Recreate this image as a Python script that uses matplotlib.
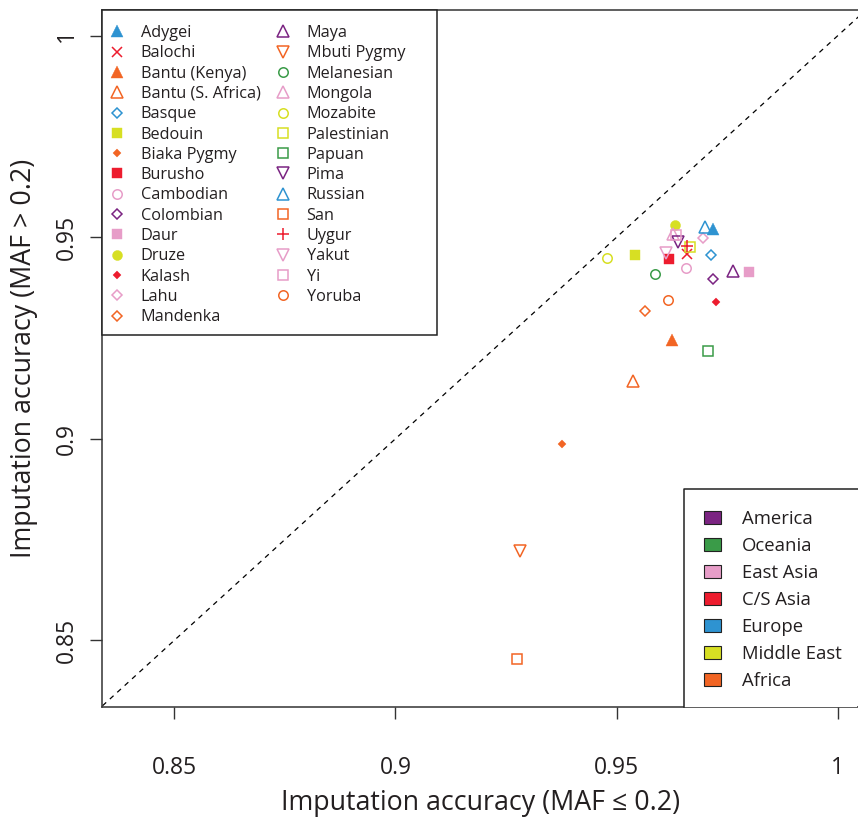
import numpy as np
import matplotlib
matplotlib.use('Agg')
import matplotlib.pyplot as plt
from matplotlib.lines import Line2D
from matplotlib.patches import Patch, Rectangle

plt.rcParams['font.family'] = ['Open Sans', 'DejaVu Sans']

# populations: accuracy for MAF <= 0.2 (x) and MAF > 0.2 (y)
pops = ['Adygei', 'Balochi', 'Bantu (Kenya)', 'Bantu (S. Africa)', 'Basque', 'Bedouin',
        'Biaka Pygmy', 'Burusho', 'Cambodian', 'Colombian', 'Daur', 'Druze', 'Kalash',
        'Lahu', 'Mandenka', 'Maya', 'Mbuti Pygmy', 'Melanesian', 'Mongola', 'Mozabite',
        'Palestinian', 'Papuan', 'Pima', 'Russian', 'San', 'Uygur', 'Yakut', 'Yi', 'Yoruba']
acc_low = [0.9717, 0.9659, 0.9625, 0.9536, 0.9714, 0.9542,
           0.9377, 0.9619, 0.9656, 0.9717, 0.9800, 0.9631, 0.9725,
           0.9696, 0.9565, 0.9764, 0.9282, 0.9586, 0.9627, 0.9479,
           0.9666, 0.9707, 0.9640, 0.9700, 0.9275, 0.9659, 0.9612, 0.9634, 0.9616]
acc_high = [0.9520, 0.9459, 0.9245, 0.9144, 0.9455, 0.9455,
            0.8987, 0.9445, 0.9423, 0.9397, 0.9415, 0.9530, 0.9340,
            0.9498, 0.9316, 0.9416, 0.8722, 0.9410, 0.9508, 0.9448,
            0.9475, 0.9219, 0.9489, 0.9526, 0.8453, 0.9478, 0.9462, 0.9505, 0.9344]
region = ['Europe', 'C/S Asia', 'Africa', 'Africa', 'Europe', 'Middle East',
          'Africa', 'C/S Asia', 'East Asia', 'America', 'East Asia', 'Middle East', 'C/S Asia',
          'East Asia', 'Africa', 'America', 'Africa', 'Oceania', 'East Asia', 'Middle East',
          'Middle East', 'Oceania', 'America', 'Europe', 'Africa', 'C/S Asia', 'East Asia',
          'East Asia', 'Africa']
# R pch codes
pch = [17, 4, 17, 2, 5, 15, 18, 15, 1, 5, 15, 16, 18, 5, 5, 2, 6, 1, 2, 1, 0, 0, 6, 2, 0, 3, 6, 0, 1]

regions = ['America', 'Oceania', 'East Asia', 'C/S Asia', 'Europe', 'Middle East', 'Africa']
region_colors = ['#7b2482', '#3a9b48', '#e79dc8', '#ed1c2e', '#2e93d1', '#d7df23', '#f26524']
col_of = dict(zip(regions, region_colors))

# pch -> (marker, size, filled)
pch_style = {0: ('s', 6.5, False), 1: ('o', 6.8, False), 2: ('^', 8.2, False),
             3: ('+', 9.0, False), 4: ('x', 6.6, False), 5: ('D', 5.6, False),
             6: ('v', 8.2, False), 15: ('s', 6.8, True), 16: ('o', 7.2, True),
             17: ('^', 8.6, True), 18: ('D', 3.8, True)}


def style(p, c):
    m, s, filled = pch_style[p]
    kw = dict(marker=m, markersize=s, linestyle='none', markeredgewidth=1.1)
    if filled:
        kw.update(markerfacecolor=c, markeredgecolor=c, markeredgewidth=0.3)
    else:
        kw.update(markerfacecolor='none', markeredgecolor=c)
    return kw


W, H = 858, 817
fig = plt.figure(figsize=(W / 100, H / 100), dpi=100)
ax = fig.add_axes([101.7 / W, (H - 706.7) / H, (860 - 101.7) / W, (706.7 - 10) / H])
ax.set_xlim(0.83358, 1.00504)
ax.set_ylim(0.83353, 1.00638)


def fpx(x, y):
    # pixel position (from top-left) -> figure fraction
    return x / W, 1 - y / H


ax.plot([0.8, 1.1], [0.8, 1.1], color='black', linestyle=(0, (4, 4)), linewidth=0.9, zorder=1)

for i in range(len(pops)):
    ax.plot(acc_low[i], acc_high[i], zorder=3, **style(pch[i], col_of[region[i]]))

txt = '#231f20'
ax.set_xticks([0.85, 0.9, 0.95, 1])
ax.set_xticklabels(['0.85', '0.9', '0.95', '1'])
ax.set_yticks([0.85, 0.9, 0.95, 1])
ax.set_yticklabels(['0.85', '0.9', '0.95', '1'], rotation=90, va='center')
ax.tick_params(axis='both', direction='out', length=8.4, width=1.0, colors='#333333',
               labelsize=16.5, labelcolor=txt)
ax.tick_params(axis='x', pad=27)
ax.tick_params(axis='y', pad=8)
for sp in ax.spines.values():
    sp.set_linewidth(1.1)
    sp.set_color('#333333')
ax.spines['right'].set_visible(False)

ax.set_xlabel('Imputation accuracy (MAF \u2264 0.2)', fontsize=19.3, color=txt, labelpad=6.5)
ax.set_ylabel('Imputation accuracy (MAF > 0.2)', fontsize=19.3, color=txt, labelpad=12)

# legend boxes
x0, y0 = fpx(101.7, 335)
x1, y1 = fpx(437, 10)
ax.add_patch(Rectangle((x0, y0), x1 - x0, y1 - y0, transform=fig.transFigure, clip_on=False,
                       facecolor='white', edgecolor='#222222', linewidth=1.1, zorder=4))
# region legend box runs off the right edge: fill (stopping short of the edge)
# plus top/left border only
x0, y0 = fpx(684, 706.7)
x1, y1 = fpx(857, 489)
ax.add_patch(Rectangle((x0, y0), x1 - x0, y1 - y0, transform=fig.transFigure, clip_on=False,
                       facecolor='white', edgecolor='none', linewidth=0, zorder=4))
ax.add_line(Line2D([x0, x0, 1.0], [y0, y1, y1], transform=fig.transFigure, clip_on=False,
                   color='#222222', linewidth=1.1, zorder=4.1))

# population legend (two columns)
handles = [Line2D([], [], **style(pch[i], col_of[region[i]])) for i in range(len(pops))]
leg1 = ax.legend(handles, pops, loc='upper left', bbox_to_anchor=fpx(112.4, 25),
                 bbox_transform=fig.transFigure, ncol=2, fontsize=11.7, frameon=False,
                 borderaxespad=0, borderpad=0, labelspacing=0.265,
                 handlelength=0.6, handletextpad=1.14, columnspacing=1.09,
                 labelcolor=txt)
ax.add_artist(leg1)

# region legend
patches = [Patch(facecolor=c, edgecolor='#222222', linewidth=0.8) for c in region_colors]
leg2 = ax.legend(patches, regions, loc='upper left', bbox_to_anchor=fpx(704, 510),
                 bbox_transform=fig.transFigure, fontsize=13.3, frameon=False,
                 borderaxespad=0, borderpad=0, labelspacing=0.49,
                 handlelength=0.92, handleheight=0.7, handletextpad=1.12,
                 labelcolor=txt)

fig.savefig('out.png', dpi=100)
